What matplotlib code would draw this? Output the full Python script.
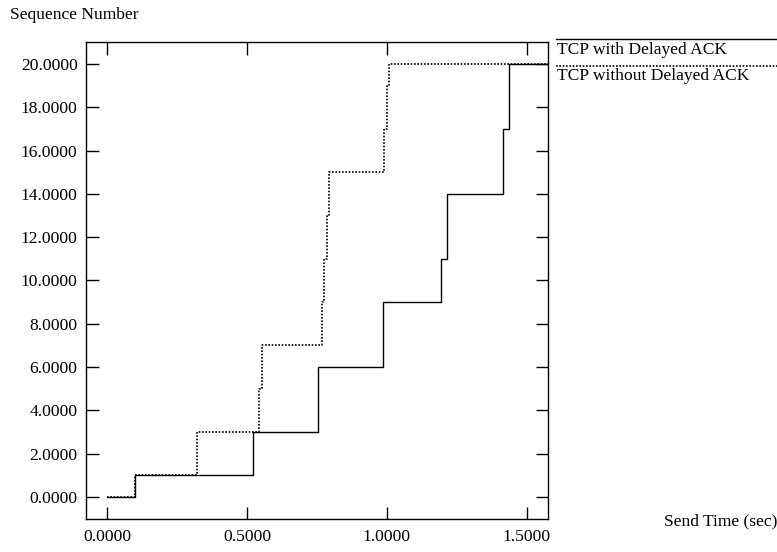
import matplotlib
matplotlib.use("Agg")
import matplotlib.pyplot as plt

plt.rcParams['font.family'] = ['Liberation Serif', 'DejaVu Serif']
plt.rcParams['font.size'] = 12.6

# step points (time, seq)
t_delayed = [0.0, 0.100, 0.100, 0.523, 0.523, 0.755, 0.755, 0.984, 0.984,
             1.192, 1.192, 1.215, 1.215, 1.415, 1.415, 1.437, 1.437, 1.60]
s_delayed = [0, 0, 1, 1, 3, 3, 6, 6, 9,
             9, 11, 11, 14, 14, 17, 17, 20, 20]

t_nodelay = [0.0, 0.100, 0.100, 0.323, 0.323, 0.544, 0.544, 0.552, 0.552,
             0.767, 0.767, 0.775, 0.775, 0.784, 0.784, 0.793, 0.793,
             0.990, 0.990, 0.999, 0.999, 1.007, 1.007, 1.60]
s_nodelay = [0, 0, 1, 1, 3, 3, 5, 5, 7,
             7, 9, 9, 11, 11, 13, 13, 15,
             15, 17, 17, 19, 19, 20, 20]

xticks = [0.0, 0.5, 1.0, 1.5]
yticks = [0, 2, 4, 6, 8, 10, 12, 14, 16, 18, 20]

fig = plt.figure(figsize=(7.77, 5.52), dpi=100)
ax = fig.add_axes([86/777, 1-519/552, (548-86)/777, (519-42)/552])

ax.plot(t_delayed, s_delayed, color='black', lw=1.0, label='TCP with Delayed ACK')
ax.plot(t_nodelay, s_nodelay, color='black', lw=1.2, ls=(0, (1, 1)),
        label='TCP without Delayed ACK')

ax.set_xlim(-0.075, 1.575)
ax.set_ylim(-1.02, 21.02)
ax.set_xticks(xticks)
ax.set_yticks(yticks)
ax.set_xticklabels(['%.4f' % v for v in xticks])
ax.set_yticklabels(['%.4f' % v for v in yticks])
ax.tick_params(direction='in', length=9, width=1, top=True, right=True)
ax.tick_params(axis='x', pad=7)
ax.tick_params(axis='y', pad=6)
for sp in ax.spines.values():
    sp.set_linewidth(1)

fig.text(10/777, 1-15/552, 'Sequence Number', ha='left', va='center')
fig.text(777/777, 1-521/552, 'Send Time (sec)', ha='right', va='center')

# legend drawn xgraph-style: line above each label
fig.add_artist(plt.Line2D([556/777, 1.0], [1-39/552, 1-39/552], color='black', lw=1))
fig.text(557/777, 1-50/552, 'TCP with Delayed ACK', ha='left', va='center')
fig.add_artist(plt.Line2D([556/777, 1.0], [1-65.5/552, 1-65.5/552], color='black',
                          lw=1.2, ls=(0, (1, 1))))
fig.text(557/777, 1-76/552, 'TCP without Delayed ACK', ha='left', va='center')

fig.savefig('out.png', dpi=100)
